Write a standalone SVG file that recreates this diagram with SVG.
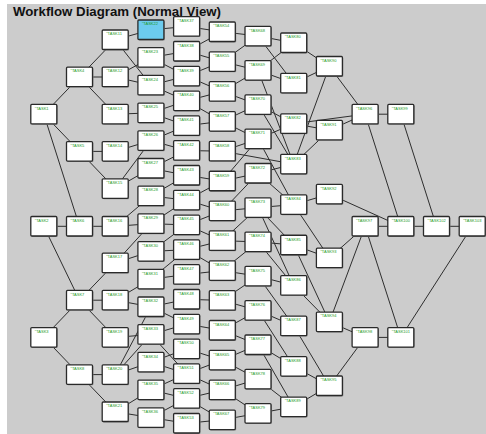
<svg xmlns="http://www.w3.org/2000/svg" width="486" height="434" viewBox="0 0 486 434">
<style>
.bg{fill:#cccccc}
.title{font-family:"Liberation Sans",Arial,sans-serif;font-weight:bold;font-size:12.5px;fill:#111}
.e line{stroke:#2e2e2e;stroke-width:1}
rect.s{fill:#8c8c8c}
rect.b{fill:#ffffff;stroke:#2a2a2a;stroke-width:1.3}
rect.hl{fill:#6ccbee}
.n text{font-family:"Liberation Sans",Arial,sans-serif;font-size:4px;fill:#1e9a1e}
</style>
<rect class="bg" x="7" y="4" width="479" height="430"/>
<text class="title" x="13" y="16.3" textLength="208" lengthAdjust="spacingAndGlyphs">Workflow Diagram (Normal View)</text>
<g id="connectors" class="e">
<line x1="43.8" y1="114.2" x2="79.5" y2="77"/>
<line x1="43.8" y1="114.2" x2="79.5" y2="151.4"/>
<line x1="43.8" y1="114.2" x2="79.5" y2="226.3"/>
<line x1="43.8" y1="226.3" x2="79.5" y2="226.3"/>
<line x1="43.8" y1="226.3" x2="79.5" y2="300.2"/>
<line x1="43.8" y1="337.4" x2="79.5" y2="300.2"/>
<line x1="43.8" y1="337.4" x2="79.5" y2="374.6"/>
<line x1="79.5" y1="77" x2="115.2" y2="39.8"/>
<line x1="79.5" y1="77" x2="115.2" y2="77"/>
<line x1="79.5" y1="77" x2="115.2" y2="114.2"/>
<line x1="79.5" y1="151.4" x2="115.2" y2="151.4"/>
<line x1="79.5" y1="151.4" x2="115.2" y2="188.6"/>
<line x1="79.5" y1="226.3" x2="115.2" y2="226.3"/>
<line x1="79.5" y1="300.2" x2="115.2" y2="263"/>
<line x1="79.5" y1="300.2" x2="115.2" y2="300.2"/>
<line x1="79.5" y1="300.2" x2="115.2" y2="337.4"/>
<line x1="79.5" y1="374.6" x2="115.2" y2="374.6"/>
<line x1="79.5" y1="374.6" x2="115.2" y2="411.8"/>
<line x1="115.2" y1="39.8" x2="150.9" y2="29.8"/>
<line x1="115.2" y1="39.8" x2="150.9" y2="85.2"/>
<line x1="115.2" y1="77" x2="150.9" y2="57.5"/>
<line x1="115.2" y1="77" x2="150.9" y2="85.2"/>
<line x1="115.2" y1="114.2" x2="150.9" y2="112.9"/>
<line x1="115.2" y1="151.4" x2="150.9" y2="140.6"/>
<line x1="115.2" y1="188.6" x2="150.9" y2="140.6"/>
<line x1="115.2" y1="188.6" x2="150.9" y2="168.3"/>
<line x1="115.2" y1="226.3" x2="150.9" y2="223.7"/>
<line x1="115.2" y1="226.3" x2="150.9" y2="196"/>
<line x1="115.2" y1="263" x2="150.9" y2="251.4"/>
<line x1="115.2" y1="263" x2="150.9" y2="223.7"/>
<line x1="115.2" y1="300.2" x2="150.9" y2="306.8"/>
<line x1="115.2" y1="300.2" x2="150.9" y2="279.1"/>
<line x1="115.2" y1="337.4" x2="150.9" y2="334.5"/>
<line x1="115.2" y1="374.6" x2="150.9" y2="306.8"/>
<line x1="115.2" y1="374.6" x2="150.9" y2="334.5"/>
<line x1="115.2" y1="374.6" x2="150.9" y2="362.2"/>
<line x1="115.2" y1="411.8" x2="150.9" y2="417.6"/>
<line x1="115.2" y1="411.8" x2="150.9" y2="389.9"/>
<line x1="150.9" y1="29.8" x2="186.6" y2="26.5"/>
<line x1="150.9" y1="57.5" x2="186.6" y2="51.3"/>
<line x1="150.9" y1="57.5" x2="186.6" y2="76.1"/>
<line x1="150.9" y1="85.2" x2="186.6" y2="76.1"/>
<line x1="150.9" y1="85.2" x2="186.6" y2="100.9"/>
<line x1="150.9" y1="112.9" x2="186.6" y2="100.9"/>
<line x1="150.9" y1="112.9" x2="186.6" y2="125.7"/>
<line x1="150.9" y1="140.6" x2="186.6" y2="150.5"/>
<line x1="150.9" y1="140.6" x2="186.6" y2="125.7"/>
<line x1="150.9" y1="168.3" x2="186.6" y2="175.3"/>
<line x1="150.9" y1="168.3" x2="186.6" y2="150.5"/>
<line x1="150.9" y1="196" x2="186.6" y2="200.1"/>
<line x1="150.9" y1="196" x2="186.6" y2="175.3"/>
<line x1="150.9" y1="223.7" x2="186.6" y2="224.9"/>
<line x1="150.9" y1="223.7" x2="186.6" y2="200.1"/>
<line x1="150.9" y1="251.4" x2="186.6" y2="249.7"/>
<line x1="150.9" y1="251.4" x2="186.6" y2="224.9"/>
<line x1="150.9" y1="279.1" x2="186.6" y2="274.5"/>
<line x1="150.9" y1="279.1" x2="186.6" y2="249.7"/>
<line x1="150.9" y1="306.8" x2="186.6" y2="299.3"/>
<line x1="150.9" y1="306.8" x2="186.6" y2="324.1"/>
<line x1="150.9" y1="334.5" x2="186.6" y2="324.1"/>
<line x1="150.9" y1="334.5" x2="186.6" y2="373.7"/>
<line x1="150.9" y1="362.2" x2="186.6" y2="348.9"/>
<line x1="150.9" y1="362.2" x2="186.6" y2="373.7"/>
<line x1="150.9" y1="389.9" x2="186.6" y2="398.5"/>
<line x1="150.9" y1="389.9" x2="186.6" y2="373.7"/>
<line x1="150.9" y1="417.6" x2="186.6" y2="423.3"/>
<line x1="150.9" y1="417.6" x2="186.6" y2="398.5"/>
<line x1="186.6" y1="26.5" x2="222.3" y2="31.8"/>
<line x1="186.6" y1="51.3" x2="222.3" y2="31.8"/>
<line x1="186.6" y1="51.3" x2="222.3" y2="61.6"/>
<line x1="186.6" y1="76.1" x2="222.3" y2="61.6"/>
<line x1="186.6" y1="76.1" x2="222.3" y2="91.5"/>
<line x1="186.6" y1="100.9" x2="222.3" y2="91.5"/>
<line x1="186.6" y1="100.9" x2="222.3" y2="121.3"/>
<line x1="186.6" y1="125.7" x2="222.3" y2="121.3"/>
<line x1="186.6" y1="150.5" x2="222.3" y2="151.2"/>
<line x1="186.6" y1="175.3" x2="222.3" y2="181"/>
<line x1="186.6" y1="200.1" x2="222.3" y2="210.9"/>
<line x1="186.6" y1="200.1" x2="222.3" y2="181"/>
<line x1="186.6" y1="224.9" x2="222.3" y2="240.7"/>
<line x1="186.6" y1="224.9" x2="222.3" y2="210.9"/>
<line x1="186.6" y1="249.7" x2="222.3" y2="240.7"/>
<line x1="186.6" y1="249.7" x2="222.3" y2="270.6"/>
<line x1="186.6" y1="274.5" x2="222.3" y2="270.6"/>
<line x1="186.6" y1="299.3" x2="222.3" y2="300.4"/>
<line x1="186.6" y1="324.1" x2="222.3" y2="330.3"/>
<line x1="186.6" y1="348.9" x2="222.3" y2="360.1"/>
<line x1="186.6" y1="373.7" x2="222.3" y2="360.1"/>
<line x1="186.6" y1="373.7" x2="222.3" y2="390"/>
<line x1="186.6" y1="398.5" x2="222.3" y2="390"/>
<line x1="186.6" y1="398.5" x2="222.3" y2="419.8"/>
<line x1="186.6" y1="423.3" x2="222.3" y2="419.8"/>
<line x1="222.3" y1="31.8" x2="258" y2="36"/>
<line x1="222.3" y1="61.6" x2="258" y2="36"/>
<line x1="222.3" y1="61.6" x2="258" y2="70.4"/>
<line x1="222.3" y1="91.5" x2="258" y2="70.4"/>
<line x1="222.3" y1="91.5" x2="258" y2="104.7"/>
<line x1="222.3" y1="121.3" x2="258" y2="104.7"/>
<line x1="222.3" y1="121.3" x2="258" y2="139"/>
<line x1="222.3" y1="151.2" x2="258" y2="139"/>
<line x1="222.3" y1="151.2" x2="293.7" y2="164.1"/>
<line x1="222.3" y1="181" x2="258" y2="173.3"/>
<line x1="222.3" y1="181" x2="258" y2="139"/>
<line x1="222.3" y1="210.9" x2="258" y2="207.6"/>
<line x1="222.3" y1="210.9" x2="258" y2="173.3"/>
<line x1="222.3" y1="240.7" x2="258" y2="241.9"/>
<line x1="222.3" y1="240.7" x2="258" y2="207.6"/>
<line x1="222.3" y1="270.6" x2="258" y2="276.2"/>
<line x1="222.3" y1="270.6" x2="258" y2="241.9"/>
<line x1="222.3" y1="300.4" x2="258" y2="310.5"/>
<line x1="222.3" y1="300.4" x2="258" y2="276.2"/>
<line x1="222.3" y1="330.3" x2="258" y2="310.5"/>
<line x1="222.3" y1="330.3" x2="258" y2="344.8"/>
<line x1="222.3" y1="360.1" x2="258" y2="344.8"/>
<line x1="222.3" y1="360.1" x2="258" y2="379.1"/>
<line x1="222.3" y1="390" x2="258" y2="379.1"/>
<line x1="222.3" y1="390" x2="258" y2="413.4"/>
<line x1="222.3" y1="419.8" x2="258" y2="413.4"/>
<line x1="258" y1="36" x2="293.7" y2="42.8"/>
<line x1="258" y1="36" x2="293.7" y2="83.2"/>
<line x1="258" y1="70.4" x2="293.7" y2="42.8"/>
<line x1="258" y1="70.4" x2="293.7" y2="83.2"/>
<line x1="258" y1="70.4" x2="293.7" y2="164.1"/>
<line x1="258" y1="104.7" x2="293.7" y2="123.7"/>
<line x1="258" y1="104.7" x2="293.7" y2="164.1"/>
<line x1="258" y1="139" x2="293.7" y2="123.7"/>
<line x1="258" y1="139" x2="293.7" y2="204.6"/>
<line x1="258" y1="173.3" x2="293.7" y2="164.1"/>
<line x1="258" y1="173.3" x2="293.7" y2="204.6"/>
<line x1="258" y1="207.6" x2="293.7" y2="204.6"/>
<line x1="258" y1="207.6" x2="293.7" y2="245"/>
<line x1="258" y1="207.6" x2="293.7" y2="285.5"/>
<line x1="258" y1="241.9" x2="293.7" y2="245"/>
<line x1="258" y1="241.9" x2="293.7" y2="285.5"/>
<line x1="258" y1="276.2" x2="293.7" y2="285.5"/>
<line x1="258" y1="276.2" x2="293.7" y2="325.9"/>
<line x1="258" y1="310.5" x2="293.7" y2="325.9"/>
<line x1="258" y1="310.5" x2="293.7" y2="366.4"/>
<line x1="258" y1="344.8" x2="293.7" y2="406.8"/>
<line x1="258" y1="344.8" x2="293.7" y2="366.4"/>
<line x1="258" y1="379.1" x2="293.7" y2="406.8"/>
<line x1="258" y1="413.4" x2="293.7" y2="406.8"/>
<line x1="293.7" y1="42.8" x2="329.4" y2="66.3"/>
<line x1="293.7" y1="83.2" x2="329.4" y2="66.3"/>
<line x1="293.7" y1="123.7" x2="329.4" y2="130.2"/>
<line x1="293.7" y1="123.7" x2="365.1" y2="114.2"/>
<line x1="293.7" y1="164.1" x2="329.4" y2="66.3"/>
<line x1="293.7" y1="164.1" x2="329.4" y2="130.2"/>
<line x1="293.7" y1="204.6" x2="329.4" y2="194.1"/>
<line x1="293.7" y1="204.6" x2="329.4" y2="258"/>
<line x1="293.7" y1="245" x2="329.4" y2="258"/>
<line x1="293.7" y1="245" x2="329.4" y2="321.9"/>
<line x1="293.7" y1="285.5" x2="329.4" y2="321.9"/>
<line x1="293.7" y1="325.9" x2="329.4" y2="385.8"/>
<line x1="293.7" y1="366.4" x2="329.4" y2="385.8"/>
<line x1="293.7" y1="406.8" x2="329.4" y2="385.8"/>
<line x1="329.4" y1="66.3" x2="365.1" y2="114.2"/>
<line x1="329.4" y1="130.2" x2="365.1" y2="114.2"/>
<line x1="329.4" y1="194.1" x2="400.8" y2="226.3"/>
<line x1="329.4" y1="258" x2="365.1" y2="226.3"/>
<line x1="329.4" y1="321.9" x2="365.1" y2="226.3"/>
<line x1="329.4" y1="321.9" x2="365.1" y2="337.4"/>
<line x1="329.4" y1="385.8" x2="365.1" y2="337.4"/>
<line x1="365.1" y1="114.2" x2="400.8" y2="114.2"/>
<line x1="365.1" y1="114.2" x2="400.8" y2="226.3"/>
<line x1="365.1" y1="226.3" x2="400.8" y2="226.3"/>
<line x1="365.1" y1="226.3" x2="400.8" y2="337.4"/>
<line x1="365.1" y1="337.4" x2="400.8" y2="337.4"/>
<line x1="400.8" y1="114.2" x2="436.5" y2="226.3"/>
<line x1="400.8" y1="226.3" x2="436.5" y2="226.3"/>
<line x1="436.5" y1="226.3" x2="472.2" y2="226.3"/>
<line x1="400.8" y1="337.4" x2="472.2" y2="226.3"/>
</g>
<g id="n0_0" class="n" transform="translate(30.8,104.4)"><rect class="s" x="0.9" y="0.9" width="26" height="19.5" rx="1"/><rect class="b" width="26" height="19.5" rx="1"/><text x="4" y="5.3">"TASK1</text></g>
<g id="n0_1" class="n" transform="translate(30.8,216.5)"><rect class="s" x="0.9" y="0.9" width="26" height="19.5" rx="1"/><rect class="b" width="26" height="19.5" rx="1"/><text x="4" y="5.3">"TASK2</text></g>
<g id="n0_2" class="n" transform="translate(30.8,327.6)"><rect class="s" x="0.9" y="0.9" width="26" height="19.5" rx="1"/><rect class="b" width="26" height="19.5" rx="1"/><text x="4" y="5.3">"TASK3</text></g>
<g id="n1_0" class="n" transform="translate(66.5,67.2)"><rect class="s" x="0.9" y="0.9" width="26" height="19.5" rx="1"/><rect class="b" width="26" height="19.5" rx="1"/><text x="4" y="5.3">"TASK4</text></g>
<g id="n1_1" class="n" transform="translate(66.5,141.6)"><rect class="s" x="0.9" y="0.9" width="26" height="19.5" rx="1"/><rect class="b" width="26" height="19.5" rx="1"/><text x="4" y="5.3">"TASK5</text></g>
<g id="n1_2" class="n" transform="translate(66.5,216.5)"><rect class="s" x="0.9" y="0.9" width="26" height="19.5" rx="1"/><rect class="b" width="26" height="19.5" rx="1"/><text x="4" y="5.3">"TASK6</text></g>
<g id="n1_3" class="n" transform="translate(66.5,290.4)"><rect class="s" x="0.9" y="0.9" width="26" height="19.5" rx="1"/><rect class="b" width="26" height="19.5" rx="1"/><text x="4" y="5.3">"TASK7</text></g>
<g id="n1_4" class="n" transform="translate(66.5,364.8)"><rect class="s" x="0.9" y="0.9" width="26" height="19.5" rx="1"/><rect class="b" width="26" height="19.5" rx="1"/><text x="4" y="5.3">"TASK8</text></g>
<g id="n2_0" class="n" transform="translate(102.2,30)"><rect class="s" x="0.9" y="0.9" width="26" height="19.5" rx="1"/><rect class="b" width="26" height="19.5" rx="1"/><text x="4" y="5.3">"TASK11</text></g>
<g id="n2_1" class="n" transform="translate(102.2,67.2)"><rect class="s" x="0.9" y="0.9" width="26" height="19.5" rx="1"/><rect class="b" width="26" height="19.5" rx="1"/><text x="4" y="5.3">"TASK12</text></g>
<g id="n2_2" class="n" transform="translate(102.2,104.4)"><rect class="s" x="0.9" y="0.9" width="26" height="19.5" rx="1"/><rect class="b" width="26" height="19.5" rx="1"/><text x="4" y="5.3">"TASK13</text></g>
<g id="n2_3" class="n" transform="translate(102.2,141.6)"><rect class="s" x="0.9" y="0.9" width="26" height="19.5" rx="1"/><rect class="b" width="26" height="19.5" rx="1"/><text x="4" y="5.3">"TASK14</text></g>
<g id="n2_4" class="n" transform="translate(102.2,178.8)"><rect class="s" x="0.9" y="0.9" width="26" height="19.5" rx="1"/><rect class="b" width="26" height="19.5" rx="1"/><text x="4" y="5.3">"TASK15</text></g>
<g id="n2_5" class="n" transform="translate(102.2,216.5)"><rect class="s" x="0.9" y="0.9" width="26" height="19.5" rx="1"/><rect class="b" width="26" height="19.5" rx="1"/><text x="4" y="5.3">"TASK16</text></g>
<g id="n2_6" class="n" transform="translate(102.2,253.2)"><rect class="s" x="0.9" y="0.9" width="26" height="19.5" rx="1"/><rect class="b" width="26" height="19.5" rx="1"/><text x="4" y="5.3">"TASK17</text></g>
<g id="n2_7" class="n" transform="translate(102.2,290.4)"><rect class="s" x="0.9" y="0.9" width="26" height="19.5" rx="1"/><rect class="b" width="26" height="19.5" rx="1"/><text x="4" y="5.3">"TASK18</text></g>
<g id="n2_8" class="n" transform="translate(102.2,327.6)"><rect class="s" x="0.9" y="0.9" width="26" height="19.5" rx="1"/><rect class="b" width="26" height="19.5" rx="1"/><text x="4" y="5.3">"TASK19</text></g>
<g id="n2_9" class="n" transform="translate(102.2,364.8)"><rect class="s" x="0.9" y="0.9" width="26" height="19.5" rx="1"/><rect class="b" width="26" height="19.5" rx="1"/><text x="4" y="5.3">"TASK20</text></g>
<g id="n2_10" class="n" transform="translate(102.2,402)"><rect class="s" x="0.9" y="0.9" width="26" height="19.5" rx="1"/><rect class="b" width="26" height="19.5" rx="1"/><text x="4" y="5.3">"TASK21</text></g>
<g id="n3_0" class="n" transform="translate(137.9,20)"><rect class="s" x="0.9" y="0.9" width="26" height="19.5" rx="1"/><rect class="b hl" width="26" height="19.5" rx="1"/><text x="4" y="5.3">"TASK22</text></g>
<g id="n3_1" class="n" transform="translate(137.9,47.7)"><rect class="s" x="0.9" y="0.9" width="26" height="19.5" rx="1"/><rect class="b" width="26" height="19.5" rx="1"/><text x="4" y="5.3">"TASK23</text></g>
<g id="n3_2" class="n" transform="translate(137.9,75.4)"><rect class="s" x="0.9" y="0.9" width="26" height="19.5" rx="1"/><rect class="b" width="26" height="19.5" rx="1"/><text x="4" y="5.3">"TASK24</text></g>
<g id="n3_3" class="n" transform="translate(137.9,103.1)"><rect class="s" x="0.9" y="0.9" width="26" height="19.5" rx="1"/><rect class="b" width="26" height="19.5" rx="1"/><text x="4" y="5.3">"TASK25</text></g>
<g id="n3_4" class="n" transform="translate(137.9,130.8)"><rect class="s" x="0.9" y="0.9" width="26" height="19.5" rx="1"/><rect class="b" width="26" height="19.5" rx="1"/><text x="4" y="5.3">"TASK26</text></g>
<g id="n3_5" class="n" transform="translate(137.9,158.5)"><rect class="s" x="0.9" y="0.9" width="26" height="19.5" rx="1"/><rect class="b" width="26" height="19.5" rx="1"/><text x="4" y="5.3">"TASK27</text></g>
<g id="n3_6" class="n" transform="translate(137.9,186.2)"><rect class="s" x="0.9" y="0.9" width="26" height="19.5" rx="1"/><rect class="b" width="26" height="19.5" rx="1"/><text x="4" y="5.3">"TASK28</text></g>
<g id="n3_7" class="n" transform="translate(137.9,213.9)"><rect class="s" x="0.9" y="0.9" width="26" height="19.5" rx="1"/><rect class="b" width="26" height="19.5" rx="1"/><text x="4" y="5.3">"TASK29</text></g>
<g id="n3_8" class="n" transform="translate(137.9,241.6)"><rect class="s" x="0.9" y="0.9" width="26" height="19.5" rx="1"/><rect class="b" width="26" height="19.5" rx="1"/><text x="4" y="5.3">"TASK30</text></g>
<g id="n3_9" class="n" transform="translate(137.9,269.3)"><rect class="s" x="0.9" y="0.9" width="26" height="19.5" rx="1"/><rect class="b" width="26" height="19.5" rx="1"/><text x="4" y="5.3">"TASK31</text></g>
<g id="n3_10" class="n" transform="translate(137.9,297)"><rect class="s" x="0.9" y="0.9" width="26" height="19.5" rx="1"/><rect class="b" width="26" height="19.5" rx="1"/><text x="4" y="5.3">"TASK32</text></g>
<g id="n3_11" class="n" transform="translate(137.9,324.7)"><rect class="s" x="0.9" y="0.9" width="26" height="19.5" rx="1"/><rect class="b" width="26" height="19.5" rx="1"/><text x="4" y="5.3">"TASK33</text></g>
<g id="n3_12" class="n" transform="translate(137.9,352.4)"><rect class="s" x="0.9" y="0.9" width="26" height="19.5" rx="1"/><rect class="b" width="26" height="19.5" rx="1"/><text x="4" y="5.3">"TASK34</text></g>
<g id="n3_13" class="n" transform="translate(137.9,380.1)"><rect class="s" x="0.9" y="0.9" width="26" height="19.5" rx="1"/><rect class="b" width="26" height="19.5" rx="1"/><text x="4" y="5.3">"TASK35</text></g>
<g id="n3_14" class="n" transform="translate(137.9,407.8)"><rect class="s" x="0.9" y="0.9" width="26" height="19.5" rx="1"/><rect class="b" width="26" height="19.5" rx="1"/><text x="4" y="5.3">"TASK36</text></g>
<g id="n4_0" class="n" transform="translate(173.6,16.7)"><rect class="s" x="0.9" y="0.9" width="26" height="19.5" rx="1"/><rect class="b" width="26" height="19.5" rx="1"/><text x="4" y="5.3">"TASK37</text></g>
<g id="n4_1" class="n" transform="translate(173.6,41.5)"><rect class="s" x="0.9" y="0.9" width="26" height="19.5" rx="1"/><rect class="b" width="26" height="19.5" rx="1"/><text x="4" y="5.3">"TASK38</text></g>
<g id="n4_2" class="n" transform="translate(173.6,66.3)"><rect class="s" x="0.9" y="0.9" width="26" height="19.5" rx="1"/><rect class="b" width="26" height="19.5" rx="1"/><text x="4" y="5.3">"TASK39</text></g>
<g id="n4_3" class="n" transform="translate(173.6,91.1)"><rect class="s" x="0.9" y="0.9" width="26" height="19.5" rx="1"/><rect class="b" width="26" height="19.5" rx="1"/><text x="4" y="5.3">"TASK40</text></g>
<g id="n4_4" class="n" transform="translate(173.6,115.9)"><rect class="s" x="0.9" y="0.9" width="26" height="19.5" rx="1"/><rect class="b" width="26" height="19.5" rx="1"/><text x="4" y="5.3">"TASK41</text></g>
<g id="n4_5" class="n" transform="translate(173.6,140.7)"><rect class="s" x="0.9" y="0.9" width="26" height="19.5" rx="1"/><rect class="b" width="26" height="19.5" rx="1"/><text x="4" y="5.3">"TASK42</text></g>
<g id="n4_6" class="n" transform="translate(173.6,165.5)"><rect class="s" x="0.9" y="0.9" width="26" height="19.5" rx="1"/><rect class="b" width="26" height="19.5" rx="1"/><text x="4" y="5.3">"TASK43</text></g>
<g id="n4_7" class="n" transform="translate(173.6,190.3)"><rect class="s" x="0.9" y="0.9" width="26" height="19.5" rx="1"/><rect class="b" width="26" height="19.5" rx="1"/><text x="4" y="5.3">"TASK44</text></g>
<g id="n4_8" class="n" transform="translate(173.6,215.1)"><rect class="s" x="0.9" y="0.9" width="26" height="19.5" rx="1"/><rect class="b" width="26" height="19.5" rx="1"/><text x="4" y="5.3">"TASK45</text></g>
<g id="n4_9" class="n" transform="translate(173.6,239.9)"><rect class="s" x="0.9" y="0.9" width="26" height="19.5" rx="1"/><rect class="b" width="26" height="19.5" rx="1"/><text x="4" y="5.3">"TASK46</text></g>
<g id="n4_10" class="n" transform="translate(173.6,264.7)"><rect class="s" x="0.9" y="0.9" width="26" height="19.5" rx="1"/><rect class="b" width="26" height="19.5" rx="1"/><text x="4" y="5.3">"TASK47</text></g>
<g id="n4_11" class="n" transform="translate(173.6,289.5)"><rect class="s" x="0.9" y="0.9" width="26" height="19.5" rx="1"/><rect class="b" width="26" height="19.5" rx="1"/><text x="4" y="5.3">"TASK48</text></g>
<g id="n4_12" class="n" transform="translate(173.6,314.3)"><rect class="s" x="0.9" y="0.9" width="26" height="19.5" rx="1"/><rect class="b" width="26" height="19.5" rx="1"/><text x="4" y="5.3">"TASK49</text></g>
<g id="n4_13" class="n" transform="translate(173.6,339.1)"><rect class="s" x="0.9" y="0.9" width="26" height="19.5" rx="1"/><rect class="b" width="26" height="19.5" rx="1"/><text x="4" y="5.3">"TASK50</text></g>
<g id="n4_14" class="n" transform="translate(173.6,363.9)"><rect class="s" x="0.9" y="0.9" width="26" height="19.5" rx="1"/><rect class="b" width="26" height="19.5" rx="1"/><text x="4" y="5.3">"TASK51</text></g>
<g id="n4_15" class="n" transform="translate(173.6,388.7)"><rect class="s" x="0.9" y="0.9" width="26" height="19.5" rx="1"/><rect class="b" width="26" height="19.5" rx="1"/><text x="4" y="5.3">"TASK52</text></g>
<g id="n4_16" class="n" transform="translate(173.6,413.5)"><rect class="s" x="0.9" y="0.9" width="26" height="19.5" rx="1"/><rect class="b" width="26" height="19.5" rx="1"/><text x="4" y="5.3">"TASK53</text></g>
<g id="n5_0" class="n" transform="translate(209.3,22)"><rect class="s" x="0.9" y="0.9" width="26" height="19.5" rx="1"/><rect class="b" width="26" height="19.5" rx="1"/><text x="4" y="5.3">"TASK54</text></g>
<g id="n5_1" class="n" transform="translate(209.3,51.85)"><rect class="s" x="0.9" y="0.9" width="26" height="19.5" rx="1"/><rect class="b" width="26" height="19.5" rx="1"/><text x="4" y="5.3">"TASK55</text></g>
<g id="n5_2" class="n" transform="translate(209.3,81.7)"><rect class="s" x="0.9" y="0.9" width="26" height="19.5" rx="1"/><rect class="b" width="26" height="19.5" rx="1"/><text x="4" y="5.3">"TASK56</text></g>
<g id="n5_3" class="n" transform="translate(209.3,111.55)"><rect class="s" x="0.9" y="0.9" width="26" height="19.5" rx="1"/><rect class="b" width="26" height="19.5" rx="1"/><text x="4" y="5.3">"TASK57</text></g>
<g id="n5_4" class="n" transform="translate(209.3,141.4)"><rect class="s" x="0.9" y="0.9" width="26" height="19.5" rx="1"/><rect class="b" width="26" height="19.5" rx="1"/><text x="4" y="5.3">"TASK58</text></g>
<g id="n5_5" class="n" transform="translate(209.3,171.25)"><rect class="s" x="0.9" y="0.9" width="26" height="19.5" rx="1"/><rect class="b" width="26" height="19.5" rx="1"/><text x="4" y="5.3">"TASK59</text></g>
<g id="n5_6" class="n" transform="translate(209.3,201.1)"><rect class="s" x="0.9" y="0.9" width="26" height="19.5" rx="1"/><rect class="b" width="26" height="19.5" rx="1"/><text x="4" y="5.3">"TASK60</text></g>
<g id="n5_7" class="n" transform="translate(209.3,230.95)"><rect class="s" x="0.9" y="0.9" width="26" height="19.5" rx="1"/><rect class="b" width="26" height="19.5" rx="1"/><text x="4" y="5.3">"TASK61</text></g>
<g id="n5_8" class="n" transform="translate(209.3,260.8)"><rect class="s" x="0.9" y="0.9" width="26" height="19.5" rx="1"/><rect class="b" width="26" height="19.5" rx="1"/><text x="4" y="5.3">"TASK62</text></g>
<g id="n5_9" class="n" transform="translate(209.3,290.65)"><rect class="s" x="0.9" y="0.9" width="26" height="19.5" rx="1"/><rect class="b" width="26" height="19.5" rx="1"/><text x="4" y="5.3">"TASK63</text></g>
<g id="n5_10" class="n" transform="translate(209.3,320.5)"><rect class="s" x="0.9" y="0.9" width="26" height="19.5" rx="1"/><rect class="b" width="26" height="19.5" rx="1"/><text x="4" y="5.3">"TASK64</text></g>
<g id="n5_11" class="n" transform="translate(209.3,350.35)"><rect class="s" x="0.9" y="0.9" width="26" height="19.5" rx="1"/><rect class="b" width="26" height="19.5" rx="1"/><text x="4" y="5.3">"TASK65</text></g>
<g id="n5_12" class="n" transform="translate(209.3,380.2)"><rect class="s" x="0.9" y="0.9" width="26" height="19.5" rx="1"/><rect class="b" width="26" height="19.5" rx="1"/><text x="4" y="5.3">"TASK66</text></g>
<g id="n5_13" class="n" transform="translate(209.3,410.05)"><rect class="s" x="0.9" y="0.9" width="26" height="19.5" rx="1"/><rect class="b" width="26" height="19.5" rx="1"/><text x="4" y="5.3">"TASK67</text></g>
<g id="n6_0" class="n" transform="translate(245,26.3)"><rect class="s" x="0.9" y="0.9" width="26" height="19.5" rx="1"/><rect class="b" width="26" height="19.5" rx="1"/><text x="4" y="5.3">"TASK68</text></g>
<g id="n6_1" class="n" transform="translate(245,60.6)"><rect class="s" x="0.9" y="0.9" width="26" height="19.5" rx="1"/><rect class="b" width="26" height="19.5" rx="1"/><text x="4" y="5.3">"TASK69</text></g>
<g id="n6_2" class="n" transform="translate(245,94.9)"><rect class="s" x="0.9" y="0.9" width="26" height="19.5" rx="1"/><rect class="b" width="26" height="19.5" rx="1"/><text x="4" y="5.3">"TASK70</text></g>
<g id="n6_3" class="n" transform="translate(245,129.2)"><rect class="s" x="0.9" y="0.9" width="26" height="19.5" rx="1"/><rect class="b" width="26" height="19.5" rx="1"/><text x="4" y="5.3">"TASK71</text></g>
<g id="n6_4" class="n" transform="translate(245,163.5)"><rect class="s" x="0.9" y="0.9" width="26" height="19.5" rx="1"/><rect class="b" width="26" height="19.5" rx="1"/><text x="4" y="5.3">"TASK72</text></g>
<g id="n6_5" class="n" transform="translate(245,197.8)"><rect class="s" x="0.9" y="0.9" width="26" height="19.5" rx="1"/><rect class="b" width="26" height="19.5" rx="1"/><text x="4" y="5.3">"TASK73</text></g>
<g id="n6_6" class="n" transform="translate(245,232.1)"><rect class="s" x="0.9" y="0.9" width="26" height="19.5" rx="1"/><rect class="b" width="26" height="19.5" rx="1"/><text x="4" y="5.3">"TASK74</text></g>
<g id="n6_7" class="n" transform="translate(245,266.4)"><rect class="s" x="0.9" y="0.9" width="26" height="19.5" rx="1"/><rect class="b" width="26" height="19.5" rx="1"/><text x="4" y="5.3">"TASK75</text></g>
<g id="n6_8" class="n" transform="translate(245,300.7)"><rect class="s" x="0.9" y="0.9" width="26" height="19.5" rx="1"/><rect class="b" width="26" height="19.5" rx="1"/><text x="4" y="5.3">"TASK76</text></g>
<g id="n6_9" class="n" transform="translate(245,335)"><rect class="s" x="0.9" y="0.9" width="26" height="19.5" rx="1"/><rect class="b" width="26" height="19.5" rx="1"/><text x="4" y="5.3">"TASK77</text></g>
<g id="n6_10" class="n" transform="translate(245,369.3)"><rect class="s" x="0.9" y="0.9" width="26" height="19.5" rx="1"/><rect class="b" width="26" height="19.5" rx="1"/><text x="4" y="5.3">"TASK78</text></g>
<g id="n6_11" class="n" transform="translate(245,403.6)"><rect class="s" x="0.9" y="0.9" width="26" height="19.5" rx="1"/><rect class="b" width="26" height="19.5" rx="1"/><text x="4" y="5.3">"TASK79</text></g>
<g id="n7_0" class="n" transform="translate(280.7,33)"><rect class="s" x="0.9" y="0.9" width="26" height="19.5" rx="1"/><rect class="b" width="26" height="19.5" rx="1"/><text x="4" y="5.3">"TASK80</text></g>
<g id="n7_1" class="n" transform="translate(280.7,73.45)"><rect class="s" x="0.9" y="0.9" width="26" height="19.5" rx="1"/><rect class="b" width="26" height="19.5" rx="1"/><text x="4" y="5.3">"TASK81</text></g>
<g id="n7_2" class="n" transform="translate(280.7,113.9)"><rect class="s" x="0.9" y="0.9" width="26" height="19.5" rx="1"/><rect class="b" width="26" height="19.5" rx="1"/><text x="4" y="5.3">"TASK82</text></g>
<g id="n7_3" class="n" transform="translate(280.7,154.35)"><rect class="s" x="0.9" y="0.9" width="26" height="19.5" rx="1"/><rect class="b" width="26" height="19.5" rx="1"/><text x="4" y="5.3">"TASK83</text></g>
<g id="n7_4" class="n" transform="translate(280.7,194.8)"><rect class="s" x="0.9" y="0.9" width="26" height="19.5" rx="1"/><rect class="b" width="26" height="19.5" rx="1"/><text x="4" y="5.3">"TASK84</text></g>
<g id="n7_5" class="n" transform="translate(280.7,235.25)"><rect class="s" x="0.9" y="0.9" width="26" height="19.5" rx="1"/><rect class="b" width="26" height="19.5" rx="1"/><text x="4" y="5.3">"TASK85</text></g>
<g id="n7_6" class="n" transform="translate(280.7,275.7)"><rect class="s" x="0.9" y="0.9" width="26" height="19.5" rx="1"/><rect class="b" width="26" height="19.5" rx="1"/><text x="4" y="5.3">"TASK86</text></g>
<g id="n7_7" class="n" transform="translate(280.7,316.15)"><rect class="s" x="0.9" y="0.9" width="26" height="19.5" rx="1"/><rect class="b" width="26" height="19.5" rx="1"/><text x="4" y="5.3">"TASK87</text></g>
<g id="n7_8" class="n" transform="translate(280.7,356.6)"><rect class="s" x="0.9" y="0.9" width="26" height="19.5" rx="1"/><rect class="b" width="26" height="19.5" rx="1"/><text x="4" y="5.3">"TASK88</text></g>
<g id="n7_9" class="n" transform="translate(280.7,397.05)"><rect class="s" x="0.9" y="0.9" width="26" height="19.5" rx="1"/><rect class="b" width="26" height="19.5" rx="1"/><text x="4" y="5.3">"TASK89</text></g>
<g id="n8_0" class="n" transform="translate(316.4,56.5)"><rect class="s" x="0.9" y="0.9" width="26" height="19.5" rx="1"/><rect class="b" width="26" height="19.5" rx="1"/><text x="4" y="5.3">"TASK90</text></g>
<g id="n8_1" class="n" transform="translate(316.4,120.4)"><rect class="s" x="0.9" y="0.9" width="26" height="19.5" rx="1"/><rect class="b" width="26" height="19.5" rx="1"/><text x="4" y="5.3">"TASK91</text></g>
<g id="n8_2" class="n" transform="translate(316.4,184.3)"><rect class="s" x="0.9" y="0.9" width="26" height="19.5" rx="1"/><rect class="b" width="26" height="19.5" rx="1"/><text x="4" y="5.3">"TASK92</text></g>
<g id="n8_3" class="n" transform="translate(316.4,248.2)"><rect class="s" x="0.9" y="0.9" width="26" height="19.5" rx="1"/><rect class="b" width="26" height="19.5" rx="1"/><text x="4" y="5.3">"TASK93</text></g>
<g id="n8_4" class="n" transform="translate(316.4,312.1)"><rect class="s" x="0.9" y="0.9" width="26" height="19.5" rx="1"/><rect class="b" width="26" height="19.5" rx="1"/><text x="4" y="5.3">"TASK94</text></g>
<g id="n8_5" class="n" transform="translate(316.4,376)"><rect class="s" x="0.9" y="0.9" width="26" height="19.5" rx="1"/><rect class="b" width="26" height="19.5" rx="1"/><text x="4" y="5.3">"TASK95</text></g>
<g id="n9_0" class="n" transform="translate(352.1,104.4)"><rect class="s" x="0.9" y="0.9" width="26" height="19.5" rx="1"/><rect class="b" width="26" height="19.5" rx="1"/><text x="4" y="5.3">"TASK96</text></g>
<g id="n9_1" class="n" transform="translate(352.1,216.5)"><rect class="s" x="0.9" y="0.9" width="26" height="19.5" rx="1"/><rect class="b" width="26" height="19.5" rx="1"/><text x="4" y="5.3">"TASK97</text></g>
<g id="n9_2" class="n" transform="translate(352.1,327.6)"><rect class="s" x="0.9" y="0.9" width="26" height="19.5" rx="1"/><rect class="b" width="26" height="19.5" rx="1"/><text x="4" y="5.3">"TASK98</text></g>
<g id="n10_0" class="n" transform="translate(387.8,104.4)"><rect class="s" x="0.9" y="0.9" width="26" height="19.5" rx="1"/><rect class="b" width="26" height="19.5" rx="1"/><text x="4" y="5.3">"TASK99</text></g>
<g id="n10_1" class="n" transform="translate(387.8,216.5)"><rect class="s" x="0.9" y="0.9" width="26" height="19.5" rx="1"/><rect class="b" width="26" height="19.5" rx="1"/><text x="4" y="5.3">"TASK100</text></g>
<g id="n10_2" class="n" transform="translate(387.8,327.6)"><rect class="s" x="0.9" y="0.9" width="26" height="19.5" rx="1"/><rect class="b" width="26" height="19.5" rx="1"/><text x="4" y="5.3">"TASK101</text></g>
<g id="n11_0" class="n" transform="translate(423.5,216.5)"><rect class="s" x="0.9" y="0.9" width="26" height="19.5" rx="1"/><rect class="b" width="26" height="19.5" rx="1"/><text x="4" y="5.3">"TASK102</text></g>
<g id="n12_0" class="n" transform="translate(459.2,216.5)"><rect class="s" x="0.9" y="0.9" width="26" height="19.5" rx="1"/><rect class="b" width="26" height="19.5" rx="1"/><text x="4" y="5.3">"TASK103</text></g>
</svg>
